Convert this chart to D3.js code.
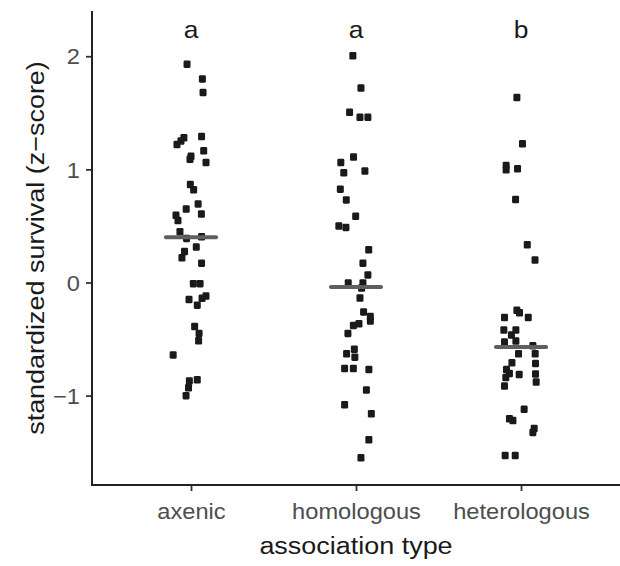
<!DOCTYPE html>
<html>
<head>
<meta charset="utf-8">
<script src="https://cdn.jsdelivr.net/npm/d3@7"></script>
<style>
  html, body { margin: 0; padding: 0; background: #fff; }
  svg { display: block; font-family: "Liberation Sans", Arial, Helvetica, sans-serif; }
</style>
</head>
<body>
<svg id="chart" width="620" height="566"></svg>
<script>
// ---------- data ----------
const categories = ["axenic", "homologous", "heterologous"];
const groupLetters = ["a", "a", "b"];
const medians = [0.40, -0.04, -0.57];
const yTicks = [-1, 0, 1, 2];

const axenicValues = [1.93, 1.80, 1.68, 1.29, 1.28, 1.25, 1.22, 1.165, 1.115, 1.09, 1.06, 0.866, 0.82, 0.695, 0.65, 0.606, 0.594, 0.547, 0.449, 0.39, 0.405, 0.313, 0.274, 0.218, 0.171, -0.01, -0.01, -0.12, -0.14, -0.15, -0.2, -0.39, -0.45, -0.515, -0.64, -0.86, -0.87, -0.93, -1.0];
const axenicJitter = [-0.024, 0.069, 0.073, 0.064, -0.043, -0.061, -0.085, 0.077, 0.0, -0.006, 0.091, -0.004, 0.016, 0.043, -0.029, 0.063, -0.091, -0.079, -0.067, -0.027, 0.064, 0.032, -0.039, -0.055, 0.064, 0.014, 0.055, 0.091, 0.067, -0.012, 0.038, 0.022, 0.049, 0.046, -0.108, 0.038, -0.010, -0.015, -0.030];

const homologousValues = [2.005, 1.72, 1.505, 1.46, 1.46, 1.11, 1.06, 0.97, 0.985, 0.825, 0.73, 0.585, 0.5, 0.487, 0.29, 0.171, 0.067, -0.004, -0.004, -0.048, -0.137, -0.26, -0.30, -0.34, -0.365, -0.38, -0.45, -0.59, -0.63, -0.66, -0.76, -0.76, -0.77, -0.95, -1.08, -1.16, -1.39, -1.55];
const homologousJitter = [-0.019, 0.030, -0.039, 0.024, 0.072, -0.015, -0.092, -0.074, 0.054, -0.095, -0.059, -0.002, -0.104, -0.061, 0.077, 0.042, 0.072, -0.047, 0.042, 0.034, 0.024, 0.046, 0.087, 0.087, 0.018, -0.016, -0.049, -0.010, -0.057, -0.007, -0.069, -0.016, 0.078, 0.063, -0.069, 0.093, 0.078, 0.030];

const heterologousValues = [1.635, 1.227, 1.035, 0.996, 1.005, 0.733, 0.334, 0.198, -0.246, -0.267, -0.31, -0.31, -0.42, -0.42, -0.465, -0.527, -0.518, -0.56, -0.63, -0.63, -0.71, -0.716, -0.77, -0.805, -0.814, -0.808, -0.84, -0.88, -0.915, -1.12, -1.205, -1.22, -1.29, -1.325, -1.53, -1.53];
const heterologousJitter = [-0.025, 0.009, -0.090, -0.090, -0.021, -0.033, 0.038, 0.085, -0.025, -0.009, -0.100, 0.044, -0.104, -0.031, -0.058, -0.100, -0.031, 0.072, -0.015, 0.086, -0.055, 0.088, -0.088, -0.070, -0.011, 0.088, -0.092, 0.092, -0.100, 0.019, -0.070, -0.049, 0.080, 0.072, -0.096, -0.035];

const xTitle = "association type";
const yTitle = "standardized survival (z\u2212score)";
const letterLevel = 2.16;

// ---------- layout ----------
const panel = { left: 92, right: 620, top: 11, bottom: 485 };
const stretch = 1.1;

const svg = d3.select("#chart");

const x = d3.scalePoint()
  .domain(categories)
  .range([panel.left, panel.right])
  .padding(0.6);
const step = x.step();

const y = d3.scaleLinear()
  .domain([-1.79, 2.40])
  .range([panel.bottom, panel.top]);

const groups = [
  { cat: categories[0], values: axenicValues, jitter: axenicJitter },
  { cat: categories[1], values: homologousValues, jitter: homologousJitter },
  { cat: categories[2], values: heterologousValues, jitter: heterologousJitter }
];
const points = groups.flatMap(g => g.values.map((v, i) => ({ cat: g.cat, v, j: g.jitter[i] })));

// points
const pw = 7, ph = 7.5;
svg.append("g").selectAll("rect")
  .data(points)
  .join("rect")
  .attr("x", d => x(d.cat) + d.j * step - pw / 2)
  .attr("y", d => y(d.v) - ph / 2)
  .attr("width", pw)
  .attr("height", ph)
  .attr("rx", 1.3)
  .attr("fill", "#1a1a1a");

// median bars
const halfW = 0.152 * step;
svg.append("g").selectAll("line")
  .data(categories)
  .join("line")
  .attr("x1", (c) => x(c) - halfW)
  .attr("x2", (c) => x(c) + halfW)
  .attr("y1", (c, i) => y(medians[i]))
  .attr("y2", (c, i) => y(medians[i]))
  .attr("stroke", "#5f5f5f")
  .attr("stroke-width", 4)
  .attr("stroke-linecap", "round");

// group letters
svg.append("g").selectAll("text")
  .data(categories)
  .join("text")
  .attr("transform", c => `translate(${x(c)},${y(letterLevel)}) scale(${stretch},1)`)
  .attr("text-anchor", "middle")
  .attr("font-size", 24)
  .attr("fill", "#1a1a1a")
  .text((c, i) => groupLetters[i]);

// y axis
const yAxis = svg.append("g")
  .attr("transform", `translate(${panel.left},0)`)
  .call(d3.axisLeft(y).tickValues(yTicks).tickSize(6).tickPadding(0)
    .tickFormat(d => d3.format("d")(d).replace("-", "\u2212")));
yAxis.select(".domain").remove();
yAxis.append("line")
  .attr("x1", 0).attr("x2", 0)
  .attr("y1", panel.top).attr("y2", panel.bottom + 1)
  .attr("stroke", "#222").attr("stroke-width", 2);
yAxis.selectAll(".tick line").attr("stroke", "#333").attr("stroke-width", 1.8);
yAxis.selectAll(".tick text")
  .attr("x", 0)
  .attr("dy", "0.36em")
  .attr("transform", `translate(-12,0) scale(${stretch},1)`)
  .attr("font-size", 21.5)
  .attr("fill", "#4d4d4d")
  .attr("font-family", null);

// x axis
const xAxis = svg.append("g")
  .attr("transform", `translate(0,${panel.bottom})`)
  .call(d3.axisBottom(x).tickSize(6).tickPadding(0));
xAxis.select(".domain").remove();
xAxis.append("line")
  .attr("x1", panel.left - 1).attr("x2", panel.right)
  .attr("y1", 0).attr("y2", 0)
  .attr("stroke", "#222").attr("stroke-width", 2);
xAxis.selectAll(".tick line").attr("stroke", "#333").attr("stroke-width", 1.8);
xAxis.selectAll(".tick text")
  .attr("y", 0)
  .attr("dy", 0)
  .attr("transform", `translate(0,33.5) scale(${stretch},1)`)
  .attr("font-size", 21.5)
  .attr("fill", "#4d4d4d")
  .attr("font-family", null);

// axis titles
svg.append("text")
  .attr("transform", `translate(${(panel.left + panel.right) / 2},554) scale(${stretch},1)`)
  .attr("text-anchor", "middle")
  .attr("font-size", 24.5)
  .attr("fill", "#1a1a1a")
  .text(xTitle);

svg.append("text")
  .attr("transform", `translate(43.5,${(panel.top + panel.bottom) / 2}) rotate(-90) scale(${stretch},1)`)
  .attr("text-anchor", "middle")
  .attr("font-size", 24.5)
  .attr("fill", "#1a1a1a")
  .text(yTitle);
</script>
</body>
</html>
